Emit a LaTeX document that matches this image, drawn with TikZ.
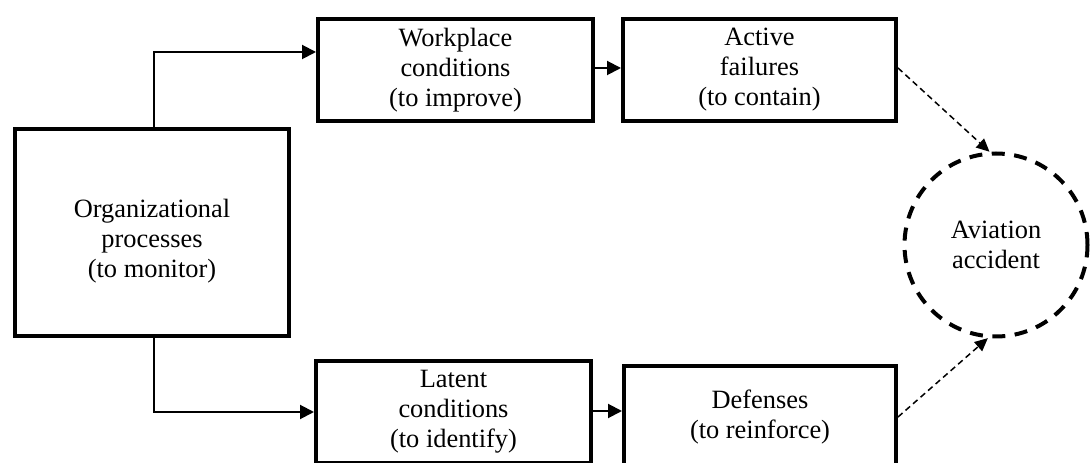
\documentclass[tikz,border=0pt]{standalone}
\usepackage{fontspec}
\setmainfont{Liberation Serif}
\usetikzlibrary{arrows.meta}
\tikzset{
  lbl/.style={font=\fontsize{26.4}{30}\selectfont, align=center, inner sep=0pt},
  stagebox/.style={draw, line width=4pt, minimum width=274pt, minimum height=102pt, lbl},
  conn/.style={line width=2pt, -{Triangle[length=14pt,width=14pt]}},
  dconn/.style={line width=1.5pt, dash pattern=on 6pt off 4pt, -{Triangle[length=13pt,width=12pt]}},
  outcome/.style={circle, draw, line width=4pt, dash pattern=on 13pt off 9.5pt, minimum size=183pt, lbl}
}
\begin{document}
\begin{tikzpicture}[x=1pt,y=1pt]
\clip (0,0) rectangle (1090,463);
\fill[white] (0,0) rectangle (1090,463);
% boxes
\node[stagebox, minimum width=274pt, minimum height=207pt] (org) at (152,230.5) {};
\node[lbl] (orgtext) at ([yshift=-9pt]org.center) {Organizational\\processes\\(to monitor)};
\node[stagebox, minimum width=275pt] (wp) at (455.5,393) {Workplace\\conditions\\(to improve)};
\node[stagebox, minimum width=273pt] (af) at (759.5,393) {Active\\failures\\(to contain)};
\node[stagebox, minimum width=275pt] (lc) at (453.5,51) {Latent\\conditions\\(to identify)};
\node[stagebox, minimum width=272pt] (df) at (760,46) {Defenses\\(to reinforce)};
\node[outcome] (acc) at (996,218) {Aviation\\accident};
% connectors
\draw[conn] ([xshift=2pt]org.north) |- ([yshift=18pt]wp.west);
\draw[conn] ([xshift=2pt]org.south) |- (lc.west);
\draw[conn] ([yshift=2pt]wp.east) -- ([yshift=2pt]af.west);
\draw[conn] ([yshift=1pt]lc.east) -- ([yshift=6pt]df.west);
\draw[dconn] ([yshift=2pt]af.east) -- (acc.94);
\draw[dconn] (df.east) -- (acc.265);
\end{tikzpicture}
\end{document}
